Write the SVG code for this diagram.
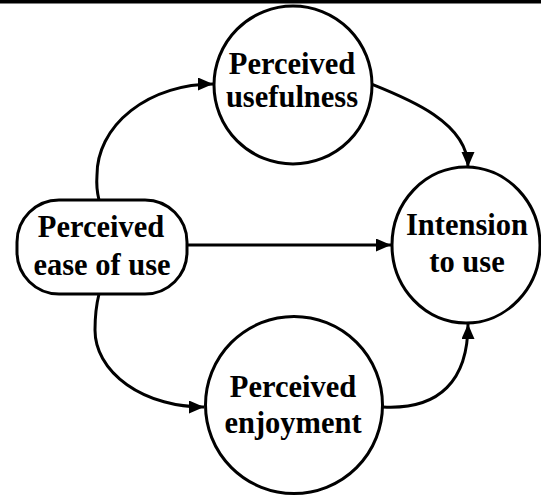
<svg xmlns="http://www.w3.org/2000/svg" width="541" height="495" viewBox="0 0 541 495">
<defs>
<style>
.node{fill:#fff;stroke:#000;stroke-width:3}
.lbl{font-family:"Liberation Serif","Times New Roman",serif;font-weight:bold;font-size:30.5px;fill:#000;text-anchor:middle}
.edge{fill:none;stroke:#000;stroke-width:3;marker-end:url(#arr)}
</style>
<marker id="arr" markerUnits="userSpaceOnUse" markerWidth="16" markerHeight="14" refX="15" refY="6.5" orient="auto">
<path d="M0,0 L15,6.5 L0,13 Z" fill="#000"/>
</marker>
</defs>
<rect x="0" y="0" width="541" height="3.5" fill="#000"/>
<g id="edges">
<path class="edge" d="M 99 200 Q 96 188 97 175 A 116 91 0 0 1 213 84"/>
<path class="edge" d="M 371 84 C 406 98 468 122 468 167"/>
<path class="edge" d="M 187 245 L 391 245"/>
<path class="edge" d="M 99 294 Q 95 310 95 330 A 108 77 0 0 0 204 407"/>
<path class="edge" d="M 383 407 C 440 410 468 380 468 324"/>
</g>
<g id="usefulness">
<circle class="node" cx="293" cy="85" r="79"/>
<text class="lbl" x="292" y="74">Perceived</text>
<text class="lbl" x="292" y="107">usefulness</text>
</g>
<g id="ease">
<rect class="node" x="17" y="200" width="170" height="94" rx="42" ry="42"/>
<text class="lbl" x="101" y="237">Perceived</text>
<text class="lbl" x="102" y="275">ease of use</text>
</g>
<g id="intension">
<ellipse class="node" cx="466" cy="245" rx="74" ry="78"/>
<text class="lbl" x="467" y="235">Intension</text>
<text class="lbl" x="467" y="272">to use</text>
</g>
<g id="enjoyment">
<circle class="node" cx="294" cy="405" r="88.5"/>
<text class="lbl" x="293" y="397">Perceived</text>
<text class="lbl" x="293" y="433">enjoyment</text>
</g>
</svg>
